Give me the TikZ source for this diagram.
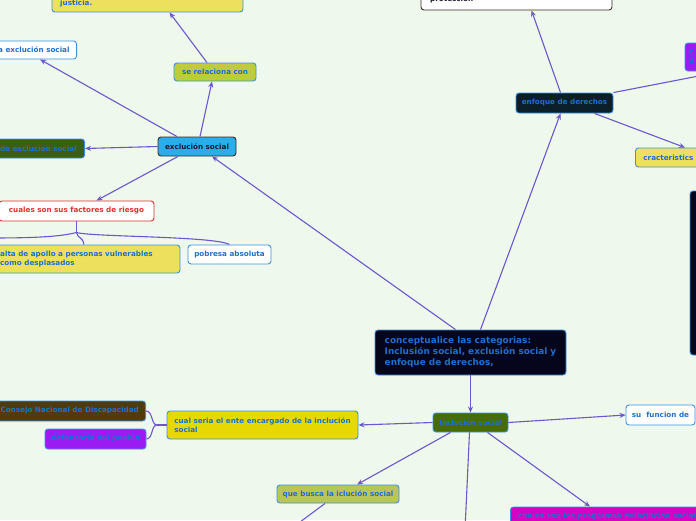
\documentclass[tikz,border=0pt]{standalone}
\usepackage{fontspec}
\setmainfont{DejaVu Sans}
\usetikzlibrary{arrows.meta,calc}
\definecolor{bg}{HTML}{EFF8EC}
\definecolor{lnc}{HTML}{6A58CC}
\definecolor{txtb}{HTML}{1F6FD0}
\definecolor{bordc}{HTML}{3B93E0}
\definecolor{yel}{HTML}{EDE05C}
\definecolor{yeltwo}{HTML}{E6D800}
\definecolor{lime}{HTML}{BECB3B}
\definecolor{cyanb}{HTML}{29AEE9}
\definecolor{dgreen}{HTML}{3B5E10}
\definecolor{igreen}{HTML}{486B05}
\definecolor{navy}{HTML}{05061C}
\definecolor{enfc}{HTML}{0B1F2B}
\definecolor{purp}{HTML}{9B1CF2}
\definecolor{brownb}{HTML}{4F3B0E}
\definecolor{quebc}{HTML}{B8C557}
\definecolor{magc}{HTML}{D400C4}
\definecolor{redc}{HTML}{E0302E}
\definecolor{darkb}{HTML}{3A2A2A}
\definecolor{darkt}{HTML}{1A1A2A}
\begin{document}
\begin{tikzpicture}[x=1pt,y=-1pt,
  box/.style={rectangle, rounded corners=3pt, draw=bordc, line width=0.9pt,
    font=\bfseries\fontsize{7.2}{8.8}\selectfont, text=txtb, inner sep=0pt},
  txt/.style={font=\bfseries\fontsize{7.2}{8.8}\selectfont, text=txtb, inner sep=0pt, align=left},
  conn/.style={draw=lnc, line width=1.1pt},
  arr/.style={conn, -{Stealth[length=6pt,width=5pt]}}]
\useasboundingbox (0,0) rectangle (696,520);
\clip (0,0) rectangle (696,520);
\fill[bg] (0,0) rectangle (696,520);

% top-left branch
\node[box, fill=yel, minimum width=191, minimum height=40] (just) at (147.5,-8) {};
\node[txt, anchor=west] (justt) at (60,4) {justicia.};
\node[box, fill=white, minimum height=18, inner xsep=7pt, anchor=east] (laex) at (77,50) {la exclución social};
\node[box, fill=lime, minimum width=82, minimum height=18] (serel) at (215,72) {se relaciona con};
\node[box, fill=cyanb, draw=darkb, text=darkt, minimum width=78, minimum height=19] (excl) at (197,146.5) {exclución social};
\node[box, fill=dgreen, minimum height=19, inner xsep=8pt, anchor=east] (tipos) at (85,148.5) {s de exclucion social};
\node[box, fill=white, draw=redc, text=redc, minimum width=155, minimum height=20] (riesgo) at (76.5,211) {cuales son sus factores de riesgo};
\node[box, fill=yel, minimum width=200, minimum height=28] (falta) at (80,259) {};
\node[txt, anchor=west] (faltat) at (0,259) {alta de apollo a personas vulnerables\\como desplasados};
\node[box, fill=white, minimum width=83, minimum height=19] (pobre) at (229.5,254.5) {pobresa absoluta};

% main
\node[box, fill=navy, minimum width=191, minimum height=45, align=left,
  font=\bfseries\fontsize{8.9}{11}\selectfont, text=txtb] (main) at (470.5,352.5)
  {conceptualice las categorias:\\Inclusión social, exclusión social y\\enfoque de derechos,};

% top-right branch
\node[box, fill=enfc, minimum width=97, minimum height=20] (enf) at (564.5,103) {enfoque de derechos};
\node[box, fill=white, draw=darkb, minimum width=191, minimum height=30] (prot) at (516.5,-5) {};
\node[txt, text=darkt, anchor=west] (prott) at (430,-1) {protección};
\node[box, fill=purp, minimum width=35, minimum height=28] (purp1) at (702.5,57) {};
\node[txt, anchor=west] (purpt) at (689,57) {c\\d};
\node[box, fill=yel, minimum height=19, inner xsep=8pt, anchor=west] (carac) at (635,157.5) {cracteristics de};
\node[box, fill=navy, minimum width=30, minimum height=164] (tall) at (705,273) {};
\coordinate (offR) at (740,68);

% bottom branch
\node[box, fill=igreen, minimum width=75, minimum height=19] (incl) at (470.5,422.5) {Inclución social};
\node[box, fill=white, minimum width=69, minimum height=20] (func) at (660.5,415) {su\ \ funcion de};
\node[box, fill=yeltwo, minimum width=191, minimum height=28, align=left] (cual) at (262.5,425) {cual seria el ente encargado de la inclución\\social};
\node[box, fill=brownb, minimum width=156, minimum height=20, anchor=east] (conse) at (146,411) {};
\node[txt, anchor=east] (conset) at (139,411) {Consejo Nacional de Discapacidad};
\node[box, fill=purp, minimum width=101, minimum height=20] (defe) at (95.5,439) {defensoria del pueblo};
\node[box, fill=quebc, minimum width=122, minimum height=18] (queb) at (338,494) {que busca la iclución social};
\node[box, fill=magc, minimum width=210, minimum height=28, anchor=west] (mag) at (510,521) {};
\node[txt, anchor=west] (magt) at (518,516.5) {cuales son los programas deinclución social};
\coordinate (offB) at (465,530);
\coordinate (offQ) at (292,528);
\coordinate (offL) at (-10,238);

% connectors
\draw[arr] ([xshift=-15pt]main.north) -- ([xshift=15pt]excl.south);
\draw[arr] ([xshift=10pt]main.north) -- ([xshift=-4pt]enf.south);
\draw[arr] (main.south) -- (incl.north);
\draw[arr] ([xshift=-4pt]enf.north) -- ([xshift=15pt]prot.south);
\draw[conn] (enf.north east) -- (offR);
\draw[arr] ([xshift=30pt]enf.south) -- ([xshift=50pt]carac.north west);
\draw[arr] ([xshift=3pt]excl.north) -- ([xshift=-3pt]serel.south);
\draw[arr] ([xshift=-8pt]serel.north) -- ([xshift=22pt]just.south);
\draw[arr] ([xshift=-20pt]excl.north) -- ([xshift=-37pt]laex.south east);
\draw[arr] (excl.west) -- (tipos.east);
\draw[arr] ([xshift=-19pt]excl.south) -- ([xshift=20pt]riesgo.north);
\draw[conn] (riesgo.south) -- ++(0,11) coordinate (rb);
\draw[conn] (rb) .. controls (77,238) and (84,238) .. ([xshift=4pt]falta.north);
\draw[conn] (rb) .. controls (90,237) and (215,236) .. (pobre.north);
\draw[conn] (rb) .. controls (60,237) and (30,238) .. (offL);
\draw[arr] (incl.west) -- (cual.east);
\draw[arr] (incl.east) -- (func.west);
\draw[arr] ([xshift=-20pt]incl.south) -- ([xshift=19pt]queb.north);
\draw[conn] ([xshift=-1pt]incl.south) -- (offB);
\draw[arr] ([xshift=17pt]incl.south) -- ([xshift=80pt]mag.north west);
\draw[conn] ([xshift=-13pt]queb.south) -- (offQ);
\draw[conn] (cual.west) -- (157,425) coordinate (cb);
\draw[conn] (cb) .. controls (151,425) and (153,411) .. (conse.east);
\draw[conn] (cb) .. controls (151,425) and (153,439) .. (defe.east);
\end{tikzpicture}
\end{document}
